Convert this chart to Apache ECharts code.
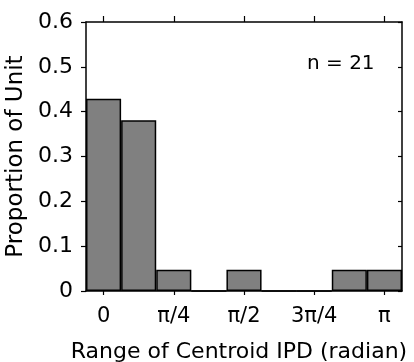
<!DOCTYPE html>
<html>
<head>
<meta charset="utf-8">
<script src="https://cdn.jsdelivr.net/npm/echarts@6/dist/echarts.min.js"></script>
<style>html,body{margin:0;padding:0;background:#fff;}#c{width:414px;height:362px;}</style>
</head>
<body>
<div id="c"></div>
<script>
const categories = ['0', 'π/8', 'π/4', '3π/8', 'π/2', '5π/8', '3π/4', '7π/8', 'π'];
const tickLabels = ['0', '', 'π/4', '', 'π/2', '', '3π/4', '', 'π'];
const proportions = [0.4286, 0.381, 0.0476, 0, 0.0476, 0, 0, 0.0476, 0.0476];
const yTicks = [0, 0.1, 0.2, 0.3, 0.4, 0.5, 0.6];
const nText = 'n = 21';

const F = 'DejaVu Sans';
const everyOther = (i) => i % 2 === 0;
const chart = echarts.init(document.getElementById('c'), null, {renderer: 'canvas'});
chart.setOption({
  backgroundColor: '#fff',
  animation: false,
  grid: {left: 86, right: 12, top: 22, bottom: 71, containLabel: false, outerBoundsMode: 'none'},
  xAxis: [{
    type: 'category', data: categories, position: 'bottom',
    boundaryGap: true,
    axisLine: {show: true, onZero: false, lineStyle: {color: '#000', width: 1.5}},
    axisTick: {show: true, alignWithLabel: true, interval: everyOther, length: 4, lineStyle: {color: '#000', width: 1.2}},
    axisLabel: {interval: everyOther, margin: 15, color: '#000', fontFamily: F, fontSize: 21,
      formatter: (v, i) => tickLabels[i]},
    name: 'Range of Centroid IPD (radian)', nameLocation: 'middle', nameGap: 50,
    nameTextStyle: {color: '#000', fontFamily: F, fontSize: 22, padding: [0, 10, 0, 0]}
  }, {
    type: 'category', data: categories, position: 'top',
    boundaryGap: true,
    axisLine: {show: true, onZero: false, lineStyle: {color: '#000', width: 1.5}},
    axisTick: {show: true, alignWithLabel: true, interval: everyOther, length: 6, lineStyle: {color: '#000', width: 1.2}},
    axisLabel: {show: false}
  }],
  yAxis: [{
    type: 'value', min: 0, max: 0.6, interval: 0.1, position: 'left',
    splitLine: {show: false},
    axisLine: {show: true, onZero: false, lineStyle: {color: '#000', width: 1.5}},
    axisTick: {show: true, length: 5, lineStyle: {color: '#000', width: 1.2}},
    axisLabel: {margin: 13, color: '#000', fontFamily: F, fontSize: 22,
      formatter: v => { const t = yTicks.find(x => Math.abs(x - v) < 1e-9); return t === 0 ? '0' : t.toFixed(1); }},
    name: 'Proportion of Unit', nameLocation: 'middle', nameGap: 57, nameRotate: 90,
    nameTextStyle: {color: '#000', fontFamily: F, fontSize: 23}
  }, {
    type: 'value', min: 0, max: 0.6, interval: 0.1, position: 'right',
    splitLine: {show: false},
    axisLine: {show: true, onZero: false, lineStyle: {color: '#000', width: 1.5}},
    axisTick: {show: true, inside: true, length: 4, lineStyle: {color: '#000', width: 1.2}},
    axisLabel: {show: false}
  }],
  series: [{
    type: 'bar', data: proportions, xAxisIndex: 0, yAxisIndex: 0,
    barCategoryGap: '0%', barGap: '0%',
    itemStyle: {color: '#808080', borderColor: '#000', borderWidth: 1.5}
  }, {
    type: 'line', data: [], xAxisIndex: 1, yAxisIndex: 1, silent: true, showSymbol: false
  }],
  graphic: [{
    type: 'text', left: 307, top: 54,
    style: {text: nText, fill: '#000', font: '20px "DejaVu Sans"'}
  }]
});
</script>
</body>
</html>
